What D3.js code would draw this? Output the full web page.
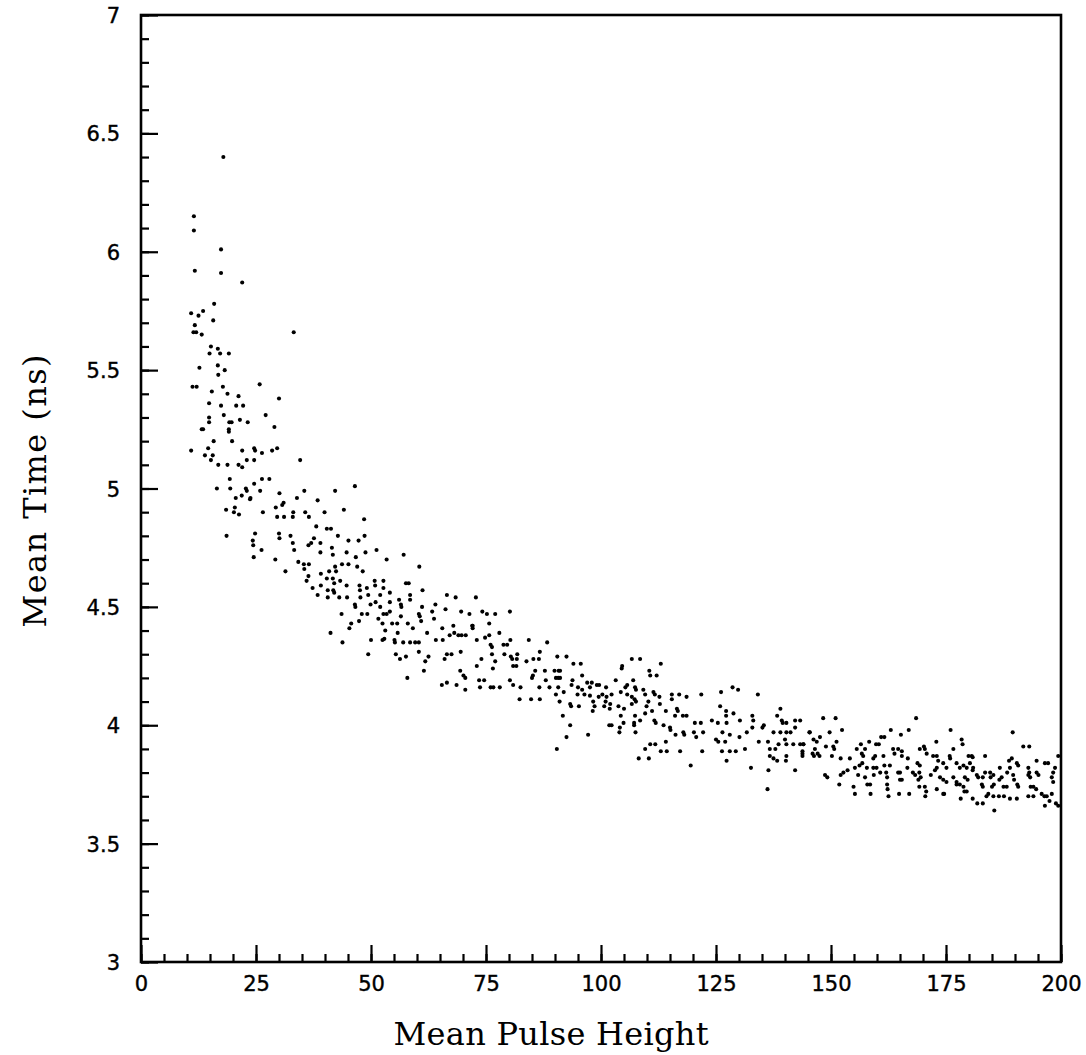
<!DOCTYPE html>
<html>
<head>
<meta charset="utf-8">
<script src="https://cdn.jsdelivr.net/npm/d3@7"></script>
<style>
  body { margin: 0; background: #fff; }
</style>
</head>
<body>
<div id="chart"></div>
<script>
// tick values
const xMajor = [0, 25, 50, 75, 100, 125, 150, 175, 200];
const yMajor = [3, 3.5, 4, 4.5, 5, 5.5, 6, 6.5, 7];

// points, [mean pulse height, mean time (ns)]
const headPoints = [
  [17.9,6.40],[11.5,6.15],[11.5,6.09],[17.4,6.01],[11.7,5.92],[17.4,5.91],[22.0,5.87],[15.9,5.78],[10.9,5.74],[12.5,5.73],
  [13.5,5.75],[15.7,5.71],[11.7,5.69],[11.4,5.66],[12.0,5.66],[13.2,5.65],[33.2,5.66],[15.2,5.60],[16.7,5.59],[14.9,5.57],
  [17.2,5.57],[19.1,5.57],[12.7,5.51],[16.7,5.52],[18.2,5.50],[16.8,5.48],[25.8,5.44],[11.2,5.43],[12.1,5.43],[15.4,5.41],
  [17.8,5.43],[18.8,5.40],[21.2,5.39],[30.0,5.38],[14.8,5.36],[17.4,5.35],[20.7,5.35],[22.2,5.35],[27.1,5.31],[14.8,5.30],
  [14.8,5.28],[18.0,5.31],[19.2,5.28],[19.7,5.28],[21.5,5.29],[23.2,5.28],[29.0,5.26],[13.5,5.25],[13.2,5.25],[19.1,5.25],
  [19.1,5.24],[15.8,5.20],[19.8,5.20],[10.9,5.16],[14.6,5.17],[22.0,5.16],[24.6,5.17],[24.8,5.16],[26.3,5.15],[28.5,5.16],
  [29.6,5.17],[13.9,5.14],[15.6,5.14],[15.2,5.12],[16.8,5.10],[18.8,5.10],[21.2,5.10],[22.0,5.09],[23.0,5.12],[24.6,5.12],
  [34.6,5.12]
];

const risePoints = [
  [19.3,5.04],[16.5,5.00],[19.4,5.00],[22.8,5.00],[23.0,4.99],[24.6,5.02],[26.3,5.04],[27.9,5.04],[25.9,4.99],[21.9,4.97],
  [23.8,4.96],[23.7,4.955],[20.6,4.96],[30.1,4.98],[35.5,4.99],[42.2,4.99],[46.5,5.01],[33.9,4.96],[38.4,4.95],[31.0,4.94],
  [30.7,4.93],[18.5,4.91],[20.4,4.92],[20.2,4.90],[21.3,4.89],[29.3,4.92],[29.6,4.88],[26.5,4.90],[31.1,4.88],[33.1,4.90],
  [33.0,4.88],[35.7,4.90],[36.5,4.88],[39.9,4.90],[44.1,4.91],[48.5,4.87],[38.1,4.84],[40.4,4.83],[41.3,4.83],[42.8,4.80],
  [18.6,4.80],[24.8,4.81],[24.3,4.78],[24.4,4.76],[30.0,4.81],[30.1,4.79],[32.5,4.80],[33.0,4.77],[33.3,4.74],[36.4,4.76],
  [37.0,4.77],[39.0,4.77],[45.1,4.78],[47.3,4.78],[48.6,4.80],[26.2,4.74],[37.6,4.79],[39.0,4.73],[41.5,4.75],[41.7,4.72],
  [44.7,4.73],[46.7,4.71],[48.8,4.73],[51.2,4.74],[53.4,4.70],[57.1,4.72],[24.5,4.71],[29.2,4.70],[34.2,4.69],[35.4,4.68],
  [36.5,4.68],[42.2,4.67],[43.7,4.68],[45.1,4.68],[47.0,4.67],[48.2,4.65],[60.5,4.67],[31.4,4.65],[35.5,4.66],[36.4,4.63],
  [39.1,4.64],[40.9,4.65],[42.4,4.65],[36.0,4.61],[40.4,4.62],[41.7,4.62],[42.0,4.60],[43.3,4.61],[44.7,4.59],[37.3,4.58],
  [39.1,4.59],[40.6,4.57],[41.8,4.57],[38.4,4.55],[40.6,4.54],[47.5,4.59],[47.6,4.57],[49.1,4.58],[50.8,4.61],[50.9,4.59],
  [52.7,4.61],[52.7,4.58],[57.6,4.60],[58.2,4.60],[42.0,4.56],[43.1,4.54],[44.8,4.54],[46.5,4.51],[46.6,4.50],[47.7,4.54],
  [49.4,4.55],[52.0,4.55],[54.1,4.56],[49.9,4.51],[51.0,4.52],[52.0,4.50],[54.1,4.52],[56.1,4.53],[56.5,4.51],[56.6,4.50],
  [58.5,4.55],[58.5,4.53],[61.2,4.57]
];

const kneePoints = [
  [43.6,4.47],[45.7,4.43],[45.3,4.41],[47.4,4.44],[48.0,4.47],[49.2,4.47],[51.6,4.45],[52.5,4.43],[52.7,4.47],[53.4,4.47],
  [54.1,4.48],[54.6,4.43],[53.1,4.40],[55.7,4.43],[56.5,4.46],[58.0,4.43],[59.1,4.41],[60.4,4.47],[60.6,4.46],[61.1,4.50],
  [63.3,4.48],[64.0,4.51],[66.2,4.49],[66.5,4.55],[68.4,4.54],[72.8,4.54],[60.9,4.44],[63.7,4.45],[65.5,4.41],[67.9,4.42],
  [69.6,4.48],[71.4,4.47],[72.1,4.42],[74.2,4.48],[75.2,4.47],[77.0,4.47],[80.2,4.48],[41.2,4.39],[43.8,4.35],[50.0,4.36],
  [52.5,4.36],[52.9,4.365],[55.1,4.36],[55.2,4.35],[57.0,4.35],[58.5,4.35],[59.6,4.35],[60.4,4.35],[55.8,4.39],[62.2,4.39],
  [64.1,4.36],[65.6,4.36],[67.1,4.38],[68.1,4.39],[69.0,4.38],[69.7,4.38],[70.6,4.38],[72.0,4.42],[72.1,4.41],[75.7,4.43],
  [73.0,4.36],[74.8,4.37],[75.7,4.38],[77.9,4.39],[80.3,4.36],[84.3,4.36],[88.3,4.35],[76.0,4.34],[76.3,4.33],[78.8,4.34],
  [79.6,4.34],[49.4,4.30],[55.4,4.30],[56.3,4.28],[57.6,4.29],[60.4,4.31],[62.5,4.29],[61.8,4.27],[61.5,4.23],[66.0,4.28],
  [66.5,4.30],[67.5,4.30],[69.5,4.31],[74.0,4.28],[76.3,4.30],[77.0,4.27],[76.5,4.24],[79.0,4.30],[80.4,4.29],[80.7,4.28],
  [81.7,4.28],[81.8,4.30],[83.8,4.27],[85.3,4.28],[86.5,4.28],[86.7,4.31],[90.5,4.29],[73.0,4.25],[80.9,4.25],[81.6,4.25],
  [57.9,4.20],[69.4,4.23],[70.1,4.21],[70.5,4.20],[65.4,4.17],[66.5,4.18],[68.6,4.17],[70.5,4.15],[73.5,4.19],[74.6,4.19],
  [73.7,4.16],[76.0,4.16],[76.6,4.16],[78.0,4.16],[80.2,4.19],[80.9,4.17],[82.5,4.16],[85.2,4.21],[85.0,4.20],[85.7,4.23],
  [87.8,4.23],[88.0,4.19],[86.6,4.16],[86.7,4.11],[88.8,4.16],[90.8,4.23],[90.7,4.20],[82.3,4.11],[84.8,4.11]
];

const midPoints = [
  [92.5,4.29],[94.0,4.26],[95.6,4.26],[89.9,4.23],[91.1,4.23],[90.2,4.20],[91.1,4.20],[95.9,4.21],[93.8,4.19],[93.6,4.17],
  [90.7,4.16],[91.9,4.14],[90.2,4.13],[106.7,4.28],[108.5,4.28],[113.0,4.26],[104.6,4.25],[104.5,4.24],[110.5,4.23],[110.7,4.21],
  [112.1,4.21],[95.0,4.16],[95.9,4.15],[97.0,4.18],[97.6,4.16],[98.0,4.18],[99.1,4.17],[99.6,4.17],[101.1,4.16],[103.2,4.19],
  [105.7,4.17],[105.3,4.16],[107.0,4.19],[107.4,4.16],[107.6,4.15],[109.2,4.15],[111.4,4.14],[111.7,4.13],[112.7,4.12],[115.4,4.13],
  [115.4,4.11],[117.0,4.13],[118.6,4.12],[121.8,4.13],[126.1,4.14],[128.6,4.16],[129.8,4.15],[134.1,4.13],[94.9,4.13],[96.4,4.13],
  [97.6,4.125],[99.5,4.12],[100.3,4.13],[101.2,4.12],[102.3,4.13],[104.3,4.14],[105.7,4.13],[106.7,4.12],[91.0,4.10],[93.3,4.09],
  [93.5,4.08],[95.2,4.08],[98.3,4.10],[98.6,4.08],[98.2,4.06],[100.7,4.08],[101.0,4.10],[102.0,4.09],[101.9,4.07],[103.8,4.08],
  [105.0,4.07],[106.7,4.09],[107.6,4.10],[107.3,4.11],[109.6,4.13],[110.3,4.10],[109.9,4.08],[111.1,4.06],[112.8,4.09],[114.1,4.06],
  [116.5,4.07],[116.7,4.06],[118.6,4.04],[117.8,4.04],[116.1,4.04],[109.6,4.05],[111.6,4.02],[111.9,4.01],[107.4,4.04],[104.3,4.04],
  [91.7,4.04],[93.3,4.00],[101.8,4.00],[102.3,4.00],[104.9,4.01],[104.1,3.99],[104.0,3.97],[107.2,4.01],[107.2,4.00],[108.5,4.02],
  [107.5,3.97],[113.6,4.00],[115.0,3.99],[115.1,3.98],[116.2,3.96],[117.9,3.97],[118.1,3.96],[120.4,4.01],[121.7,4.01],[120.2,3.97],
  [120.7,3.95],[122.2,3.97],[124.1,4.02],[125.9,4.08],[127.2,4.06],[127.2,4.04],[128.8,4.05],[125.4,4.01],[127.3,4.01],[130.2,4.02],
  [132.9,4.04],[133.1,4.02],[126.4,3.97],[128.0,3.96],[130.1,3.95],[131.7,3.97],[132.9,3.99],[125.0,3.94],[125.5,3.93],[127.0,3.93],
  [131.3,3.90],[126.3,3.89],[128.0,3.89],[129.3,3.89],[122.0,3.89],[117.2,3.89],[114.1,3.93],[111.8,3.92],[110.7,3.92],[109.6,3.90],
  [113.0,3.89],[114.3,3.89],[108.2,3.86],[110.4,3.86],[119.5,3.83],[127.3,3.85],[132.6,3.82],[90.4,3.90],[97.2,3.96],[92.5,3.95],
  [136.2,3.73],[136.4,3.81],[135.4,4.00],[135.1,3.99],[134.3,3.93],[136.3,3.93],[136.7,3.90],[139.0,4.07],[138.3,4.04],[139.3,4.02],
  [139.5,4.01],[140.3,4.01],[142.2,4.02],[143.3,4.02],[137.5,3.97],[139.0,3.97],[140.3,3.97],[141.2,3.97],[142.2,3.99],[140.0,3.94],
  [140.3,3.92],[141.8,3.92],[143.3,3.92],[144.0,3.92],[138.6,3.92],[137.9,3.90],[136.7,3.87],[137.5,3.86],[138.3,3.85],[140.3,3.87],
  [140.2,3.85],[143.8,3.89],[143.8,3.87],[142.2,3.81],[145.3,3.97]
];

const tailPoints = [
  [148.3,4.03],[151.0,4.03],[168.5,4.03],[152.4,3.98],[145.4,3.97],[149.7,3.97],[147.6,3.95],[163.0,3.98],[166.9,3.98],[176.0,3.98],
  [189.5,3.97],[165.2,3.96],[146.2,3.94],[146.9,3.93],[151.2,3.93],[178.4,3.94],[178.6,3.92],[172.9,3.93],[160.9,3.95],[161.6,3.95],
  [144.0,3.92],[143.8,3.88],[148.9,3.91],[150.5,3.91],[146.5,3.90],[156.5,3.92],[158.3,3.93],[159.8,3.92],[160.4,3.92],[191.8,3.91],
  [193.1,3.91],[155.6,3.90],[157.4,3.90],[163.5,3.90],[163.8,3.88],[164.6,3.90],[165.4,3.89],[165.4,3.87],[169.3,3.90],[170.2,3.91],
  [170.4,3.90],[176.6,3.90],[183.5,3.87],[146.0,3.88],[146.3,3.87],[147.1,3.88],[147.5,3.87],[150.2,3.87],[150.7,3.90],[156.7,3.88],
  [157.0,3.87],[159.6,3.87],[159.2,3.86],[161.4,3.87],[166.7,3.86],[170.8,3.88],[172.2,3.87],[173.0,3.87],[173.3,3.85],[175.8,3.87],
  [175.9,3.86],[179.9,3.87],[180.6,3.87],[180.8,3.865],[188.7,3.85],[189.3,3.86],[194.7,3.85],[196.5,3.84],[197.2,3.84],[199.4,3.87],
  [152.1,3.86],[154.1,3.86],[155.2,3.82],[156.2,3.83],[156.8,3.84],[157.8,3.82],[159.2,3.82],[159.9,3.82],[161.6,3.83],[162.8,3.83],
  [166.6,3.82],[168.8,3.84],[169.3,3.83],[174.4,3.84],[175.1,3.82],[173.0,3.82],[172.6,3.81],[177.3,3.84],[178.0,3.82],[178.8,3.83],
  [179.5,3.82],[180.2,3.84],[180.9,3.82],[180.8,3.81],[185.3,3.79],[186.7,3.82],[188.9,3.82],[188.3,3.80],[190.4,3.84],[190.7,3.83],
  [192.9,3.82],[193.1,3.80],[194.7,3.80],[195.1,3.79],[198.7,3.82],[198.3,3.80],[148.7,3.79],[149.2,3.78],[152.1,3.79],[152.7,3.80],
  [153.6,3.81],[155.9,3.79],[157.4,3.78],[159.3,3.79],[160.7,3.80],[162.0,3.80],[162.2,3.78],[164.6,3.80],[165.0,3.80],[167.8,3.80],
  [168.3,3.79],[169.2,3.80],[169.5,3.78],[169.0,3.77],[171.7,3.79],[173.7,3.78],[174.4,3.77],[175.1,3.76],[176.6,3.78],[177.3,3.76],
  [179.1,3.78],[179.7,3.77],[181.7,3.79],[182.0,3.78],[183.5,3.80],[183.0,3.78],[184.6,3.80],[184.7,3.78],[186.6,3.77],[187.1,3.78],
  [189.6,3.79],[189.8,3.77],[192.9,3.79],[193.3,3.78],[198.0,3.78],[198.3,3.76],[151.8,3.75],[154.9,3.74],[157.9,3.75],[158.5,3.75],
  [162.2,3.75],[162.3,3.73],[165.0,3.77],[165.4,3.77],[169.2,3.74],[170.4,3.74],[170.7,3.72],[170.5,3.70],[173.0,3.73],[174.6,3.71],
  [177.3,3.75],[178.0,3.75],[178.8,3.74],[179.0,3.72],[179.5,3.72],[182.8,3.75],[183.0,3.74],[185.0,3.74],[185.4,3.75],[187.5,3.74],
  [188.2,3.74],[190.5,3.75],[190.7,3.74],[193.4,3.74],[194.0,3.74],[194.6,3.73],[155.2,3.71],[158.6,3.71],[162.5,3.70],[164.8,3.71],
  [167.0,3.71],[174.4,3.71],[178.2,3.69],[180.8,3.69],[181.8,3.67],[183.0,3.67],[183.8,3.70],[184.2,3.71],[185.3,3.70],[186.5,3.70],
  [185.5,3.64],[187.6,3.70],[188.9,3.69],[190.4,3.69],[192.9,3.70],[194.0,3.70],[195.8,3.71],[196.4,3.70],[196.9,3.70],[196.5,3.66],
  [197.5,3.68],[198.0,3.71],[198.9,3.67],[199.4,3.66]
];

const points = [...headPoints, ...risePoints, ...kneePoints, ...midPoints, ...tailPoints];

const width = 1086;
const height = 1055;
const margin = {top: 15, right: 25, bottom: 93, left: 141};

const svg = d3.select("#chart")
  .append("svg")
  .attr("width", width)
  .attr("height", height);

const x = d3.scaleLinear().domain([0, 200]).range([margin.left, width - margin.right]);
const y = d3.scaleLinear().domain([3, 7]).range([height - margin.bottom, margin.top]);

const tickFont = "'DejaVu Sans', sans-serif";

// minor ticks first (no labels)
svg.append("g")
  .attr("transform", `translate(0,${y(3)})`)
  .call(d3.axisBottom(x).tickValues(d3.range(0, 201, 5)).tickSize(-8).tickFormat(""))
  .call(g => g.select(".domain").remove());

svg.append("g")
  .attr("transform", `translate(${x(0)},0)`)
  .call(d3.axisLeft(y).tickValues(d3.range(30, 71, 1).map(d => d / 10)).tickSize(-8).tickFormat(""))
  .call(g => g.select(".domain").remove());

// major ticks with labels
svg.append("g")
  .attr("class", "xaxis")
  .attr("transform", `translate(0,${y(3)})`)
  .call(d3.axisBottom(x).tickValues(xMajor).tickSize(-17).tickPadding(14).tickFormat(d => d))
  .call(g => g.select(".domain").remove());

svg.append("g")
  .attr("class", "yaxis")
  .attr("transform", `translate(${x(0)},0)`)
  .call(d3.axisLeft(y).tickValues(yMajor).tickSize(-17).tickPadding(21).tickFormat(d => d))
  .call(g => g.select(".domain").remove());

svg.selectAll(".tick line").attr("stroke", "#000").attr("stroke-width", 2.2);
svg.selectAll(".tick text")
  .attr("fill", "#000")
  .attr("stroke", "#000")
  .attr("stroke-width", 0.4)
  .style("font-family", tickFont)
  .style("font-size", "21px");
svg.selectAll(".yaxis .tick text").attr("dy", "0.36em");

// frame
svg.append("rect")
  .attr("x", x(0))
  .attr("y", y(7))
  .attr("width", x(200) - x(0))
  .attr("height", y(3) - y(7))
  .attr("fill", "none")
  .attr("stroke", "#000")
  .attr("stroke-width", 2.6);

// data points
svg.append("g")
  .selectAll("circle")
  .data(points)
  .join("circle")
  .attr("cx", d => x(d[0]))
  .attr("cy", d => y(d[1]))
  .attr("r", 2.05)
  .attr("fill", "#000");

// axis titles
svg.append("text")
  .attr("x", 551)
  .attr("y", 1045)
  .attr("text-anchor", "middle")
  .attr("textLength", 315)
  .style("font-family", "'DejaVu Serif', serif")
  .style("font-size", "32px")
  .text("Mean Pulse Height");

svg.append("text")
  .attr("transform", "translate(46,491) rotate(-90)")
  .attr("text-anchor", "middle")
  .attr("textLength", 273)
  .style("font-family", "'DejaVu Serif', serif")
  .style("font-size", "32px")
  .text("Mean Time (ns)");
</script>
</body>
</html>
